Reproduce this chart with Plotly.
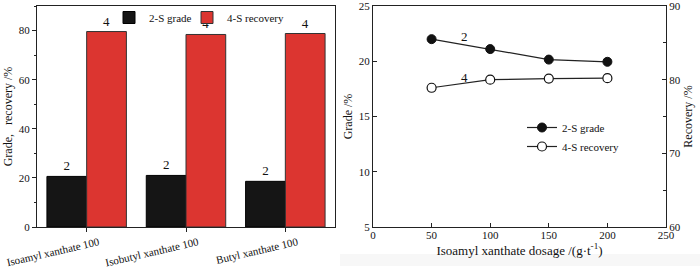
import plotly.graph_objects as go

# ---- data ----
categories = ["Isoamyl xanthate 100", "Isobutyl xanthate 100", "Butyl xanthate 100"]
grade_bar = [20.6, 21.0, 18.6]
recovery_bar = [79.6, 78.4, 78.8]

dosage = [50, 100, 150, 200]
grade_line = [22.0, 21.1, 20.15, 19.95]
recovery_line = [78.9, 80.0, 80.15, 80.2]

FONT = "Liberation Serif"
AX = "#222222"

fig = go.Figure()

fig.add_trace(go.Bar(
    x=categories, y=grade_bar, name="2-S grade",
    marker=dict(color="#151515", line=dict(color="#000000", width=1)),
    text=["2"] * 3, textposition="outside", cliponaxis=False,
    textfont=dict(family=FONT, size=13, color="#111"),
    xaxis="x", yaxis="y", legend="legend"))
fig.add_trace(go.Bar(
    x=categories, y=recovery_bar, name="4-S recovery",
    marker=dict(color="#dc3530", line=dict(color="#333333", width=1)),
    text=["4"] * 3, textposition="outside", cliponaxis=False,
    textfont=dict(family=FONT, size=13, color="#111"),
    xaxis="x", yaxis="y", legend="legend3"))

fig.add_trace(go.Scatter(
    x=dosage, y=grade_line, name="2-S grade", mode="lines+markers",
    line=dict(color="#222", width=1.2),
    marker=dict(symbol="circle", size=9, color="#111", line=dict(color="#111", width=1)),
    xaxis="x2", yaxis="y2", legend="legend2"))
fig.add_trace(go.Scatter(
    x=dosage, y=recovery_line, name="4-S recovery", mode="lines+markers",
    line=dict(color="#222", width=1.2),
    marker=dict(symbol="circle", size=9, color="white", line=dict(color="#111", width=1.2)),
    xaxis="x2", yaxis="y3", legend="legend2"))

common = dict(automargin=False, showgrid=False, zeroline=False, showline=True,
              linecolor=AX, linewidth=1, tickcolor=AX, ticklen=4,
              ticklabeloverflow="allow",
              tickfont=dict(family=FONT, size=11))

leg_common = dict(font=dict(family=FONT, size=11), bgcolor="rgba(0,0,0,0)",
                  itemwidth=30, tracegroupgap=0, xanchor="left", yanchor="top")

fig.update_layout(
    width=700, height=268,
    margin=dict(l=0, r=0, t=0, b=0),
    paper_bgcolor="white", plot_bgcolor="white",
    font=dict(family=FONT, size=11, color="#111"),
    barmode="group", bargap=0.2, bargroupgap=0,
    showlegend=True,
    xaxis=dict(domain=[37/700, 335/700], type="category", range=[-0.5, 2.5],
               mirror=True, ticks="outside", tickangle=-13, ticklabelshift=12,
               anchor="y", **common),
    yaxis=dict(domain=[1-227/268, 1-6/268], range=[0, 90], dtick=20,
               mirror=True, ticks="outside",
               minor=dict(dtick=10, ticks="outside", ticklen=2, tickcolor=AX),
               title=dict(text="Grade,   recovery /%", font=dict(family=FONT, size=12), standoff=3),
               anchor="x", **common),
    xaxis2=dict(domain=[373/700, 666/700], range=[0, 250], dtick=50,
                mirror=True, ticks="inside", ticklabelstandoff=-2,
                title=dict(text="Isoamyl xanthate dosage /(g·t<sup>-1</sup>)",
                           font=dict(family=FONT, size=13), standoff=0),
                anchor="y2", **common),
    yaxis2=dict(domain=[1-227/268, 1-6/268], range=[5, 25], dtick=5,
                ticks="inside",
                title=dict(text="Grade /%", font=dict(family=FONT, size=12), standoff=3),
                anchor="x2", **common),
    yaxis3=dict(range=[60, 90], dtick=10, overlaying="y2", side="right",
                ticks="inside",
                minor=dict(dtick=5, ticks="inside", ticklen=3, tickcolor=AX),
                title=dict(text="Recovery /%", font=dict(family=FONT, size=12), standoff=3),
                anchor="x2", **common),
    legend=dict(orientation="h", x=109/700, y=1-3/268, **leg_common),
    legend3=dict(orientation="h", x=187/700, y=1-3/268, **leg_common),
    legend2=dict(orientation="v", x=522/700, y=1-113/268, **leg_common),
    shapes=[dict(type="rect", xref="paper", yref="paper", x0=340/700, x1=1,
                 y0=2/268, y1=14/268, fillcolor="#f7f7f7", line=dict(width=0), layer="below")],
)

fig.add_annotation(x=78, y=22.25, xref="x2", yref="y2", text="2", showarrow=False,
                   font=dict(family=FONT, size=13), yanchor="middle")
fig.add_annotation(x=78, y=80.35, xref="x2", yref="y3", text="4", showarrow=False,
                   font=dict(family=FONT, size=13), yanchor="middle")

fig.write_html("out.html", config={"displayModeBar": False},
               post_script="document.body.style.margin='0';")
